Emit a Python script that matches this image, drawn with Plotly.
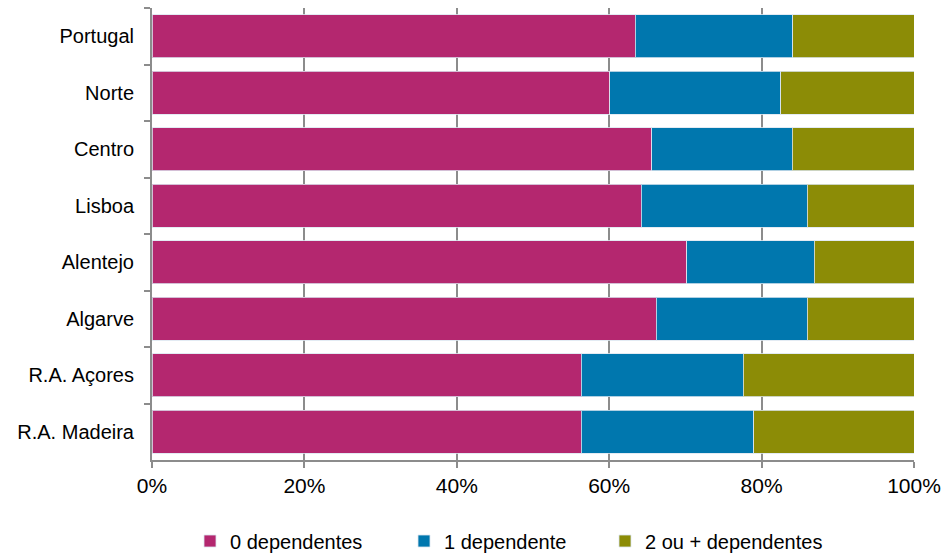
import plotly.graph_objects as go

regions = ["Portugal", "Norte", "Centro", "Lisboa", "Alentejo", "Algarve", "R.A. Açores", "R.A. Madeira"]
dep0 = [63.4, 60.1, 65.6, 64.2, 70.2, 66.2, 56.3, 56.3]
dep1 = [20.7, 22.4, 18.4, 21.8, 16.7, 19.8, 21.3, 22.7]
dep2 = [15.9, 17.5, 16.0, 14.0, 13.1, 14.0, 22.4, 21.0]
series_names = ["0 dependentes", "1 dependente", "2 ou + dependentes"]
colors = ["#B4276F", "#0077AE", "#8C8C06"]
legend_ids = ["legend", "legend2", "legend3"]
legend_x = [190, 404, 605]

fig = go.Figure()
for name, vals, col, lid in zip(series_names, [dep0, dep1, dep2], colors, legend_ids):
    fig.add_trace(go.Bar(
        y=regions, x=vals, name=name, orientation="h", legend=lid,
        marker=dict(color=col, line=dict(color="rgba(220,230,240,0.8)", width=1)),
    ))

legend_common = dict(orientation="h", xanchor="left", xref="container",
                     y=12 / 553, yanchor="middle", yref="container",
                     font=dict(size=20), itemwidth=30, bgcolor="rgba(0,0,0,0)")

layout_legends = {lid: dict(x=lx / 951, **legend_common) for lid, lx in zip(legend_ids, legend_x)}

fig.update_layout(
    barmode="stack", bargap=0.24,
    width=951, height=553,
    margin=dict(l=152, r=37, t=8, b=93, autoexpand=False),
    paper_bgcolor="white", plot_bgcolor="white",
    font=dict(family="Liberation Sans, Arial, sans-serif", size=20, color="#000000"),
    showlegend=True,
    **layout_legends,
)
fig.update_xaxes(
    range=[0, 100], tickvals=[0, 20, 40, 60, 80, 100],
    ticktext=["0%", "20%", "40%", "60%", "80%", "100%"],
    tickfont=dict(size=21),
    showgrid=True, gridcolor="#8C8C8C", gridwidth=2,
    showline=True, linecolor="#8C8C8C", linewidth=2,
    ticks="outside", tickcolor="#8C8C8C", ticklen=6, tickwidth=2,
    zeroline=False, fixedrange=True,
)
fig.update_yaxes(
    categoryorder="array", categoryarray=regions, autorange="reversed",
    showline=True, linecolor="#8C8C8C", linewidth=2,
    ticks="outside", tickson="boundaries", tickcolor="#8C8C8C", ticklen=6, tickwidth=2,
    showgrid=False, ticklabelstandoff=12,
)

fig.write_html("out.html")
